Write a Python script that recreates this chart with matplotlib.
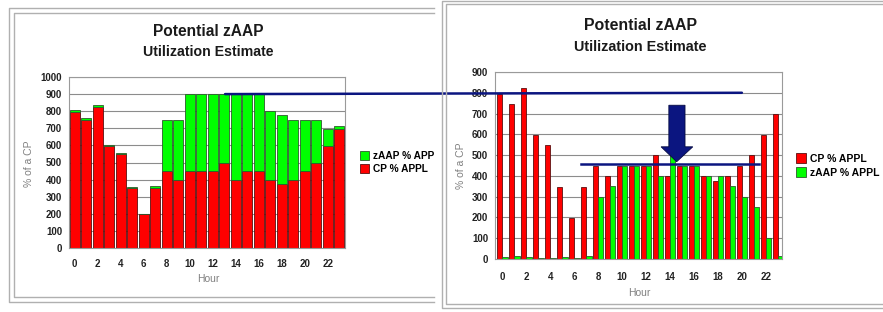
import matplotlib
matplotlib.use("Agg")
import matplotlib.pyplot as plt
import numpy as np
from matplotlib.lines import Line2D
from matplotlib.patches import ConnectionPatch, Polygon

plt.rcParams["font.family"] = ["Liberation Sans", "DejaVu Sans"]

hours = list(range(24))
cp_appl = [795, 748, 822, 597, 548, 348, 197, 348, 450, 400, 450, 450,
           450, 500, 400, 450, 450, 400, 375, 400, 450, 500, 597, 697]
zaap_appl = [12, 15, 12, 3, 5, 8, 3, 15, 300, 350, 450, 450,
             450, 400, 500, 450, 450, 400, 400, 350, 300, 250, 100, 15]
tick_hours = list(range(0, 24, 2))

W, H = 883, 312
RED = "#ff0000"
GREEN = "#00ff00"
NAVY = "#0b1580"
GRID = "#8c8c8c"


def fx(x):
    return x / W


def fy(y):
    return 1 - y / H


def axes_box(x0, y0, x1, y1):
    return [fx(x0), fy(y1), fx(x1) - fx(x0), fy(y0) - fy(y1)]


def panel_lines(fig, xs, ys, color="#b0b0b0"):
    fig.add_artist(Line2D([fx(v) for v in xs], [fy(v) for v in ys],
                          transform=fig.transFigure, color=color, lw=1.0))


def style_axes(ax, ymax):
    ax.set_ylim(0, ymax)
    ax.set_yticks(np.arange(0, ymax + 1, 100))
    ax.set_xticks(tick_hours)
    ax.yaxis.grid(True, color=GRID, lw=0.8)
    ax.set_axisbelow(True)
    for s in ax.spines.values():
        s.set_color("#9a9a9a")
        s.set_linewidth(0.8)
    ax.tick_params(length=0, labelsize=7, colors="#222222", pad=5)
    for lab in ax.get_xticklabels() + ax.get_yticklabels():
        lab.set_fontweight("bold")


fig = plt.figure(figsize=(W / 100, H / 100), dpi=100)

# panel frames
panel_lines(fig, [434, 9, 9, 434], [8, 8, 302, 302])
panel_lines(fig, [434, 14, 14, 434], [13, 13, 297, 297])
panel_lines(fig, [883, 442, 442, 883], [1, 1, 308, 308])
panel_lines(fig, [883, 446, 446, 883], [4, 4, 304, 304])

# left: stacked
ax1 = fig.add_axes(axes_box(69, 77, 345, 248))
b_cp = ax1.bar(hours, cp_appl, width=0.86, color=RED, edgecolor="#5a1010", lw=0.6)
b_z = ax1.bar(hours, zaap_appl, bottom=cp_appl, width=0.86, color=GREEN,
              edgecolor="#2e5a2e", lw=0.6)
ax1.set_xlim(-0.5, 23.5)
style_axes(ax1, 1000)
ax1.tick_params(axis="x", pad=8)
ax1.legend([b_z, b_cp], ["zAAP % APP", "CP % APPL"], loc="center left",
           bbox_to_anchor=(1.055, 0.5), frameon=False, borderpad=0, borderaxespad=0,
           handlelength=0.9, handleheight=1.0, handletextpad=0.4, labelspacing=0.35,
           prop={"size": 7.3, "weight": "bold"})
fig.text(fx(208), fy(32), "Potential zAAP", ha="center", va="center",
         fontsize=11.2, fontweight="bold", color="#1a1a1a")
fig.text(fx(208), fy(52), "Utilization Estimate", ha="center", va="center",
         fontsize=10.2, fontweight="bold", color="#1a1a1a")
fig.text(fx(29), fy(164), "% of a CP", rotation=90, ha="center", va="center",
         fontsize=7.5, color="#808080")
fig.text(fx(208), fy(279), "Hour", ha="center", va="center",
         fontsize=7.5, color="#808080")

# right: grouped
ax2 = fig.add_axes(axes_box(495, 72, 782, 259))
x = np.array(hours)
r_cp = ax2.bar(x - 0.22, cp_appl, width=0.44, color=RED, edgecolor="#5a1010", lw=0.6)
r_z = ax2.bar(x + 0.22, zaap_appl, width=0.44, color=GREEN, edgecolor="#2e5a2e", lw=0.6)
ax2.set_xlim(-0.62, 23.35)
style_axes(ax2, 900)
ax2.tick_params(axis="x", pad=9)
ax2.legend([r_cp, r_z], ["CP % APPL", "zAAP % APPL"], loc="center left",
           bbox_to_anchor=(1.05, 0.5), frameon=False, borderpad=0, borderaxespad=0,
           handlelength=0.9, handleheight=1.0, handletextpad=0.4, labelspacing=0.35,
           prop={"size": 7.5, "weight": "bold"})
fig.text(fx(640), fy(25), "Potential zAAP", ha="center", va="center",
         fontsize=11.4, fontweight="bold", color="#1a1a1a")
fig.text(fx(640), fy(47), "Utilization Estimate", ha="center", va="center",
         fontsize=10.4, fontweight="bold", color="#1a1a1a")
fig.text(fx(461), fy(166), "% of a CP", rotation=90, ha="center", va="center",
         fontsize=7.5, color="#808080")
fig.text(fx(639), fy(293), "Hour", ha="center", va="center",
         fontsize=7.5, color="#808080")

# overlays: peak line across both charts, reduced peak line and arrow
con = ConnectionPatch(xyA=(13.07, 900), coordsA=ax1.transData,
                      xyB=(20.0, 800), coordsB=ax2.transData,
                      color=NAVY, lw=1.8)
fig.add_artist(con)
ax2.plot([6.6, 21.4], [457, 457], color=NAVY, lw=1.8, clip_on=False, zorder=5)
arrow = Polygon([(13.9, 740), (15.25, 740), (15.25, 540), (15.9, 540), (14.55, 468),
                 (13.25, 540), (13.9, 540)], closed=True, facecolor=NAVY,
                edgecolor="#050a40", lw=0.6, zorder=6, clip_on=False)
ax2.add_patch(arrow)

fig.savefig("out.png", dpi=100)
